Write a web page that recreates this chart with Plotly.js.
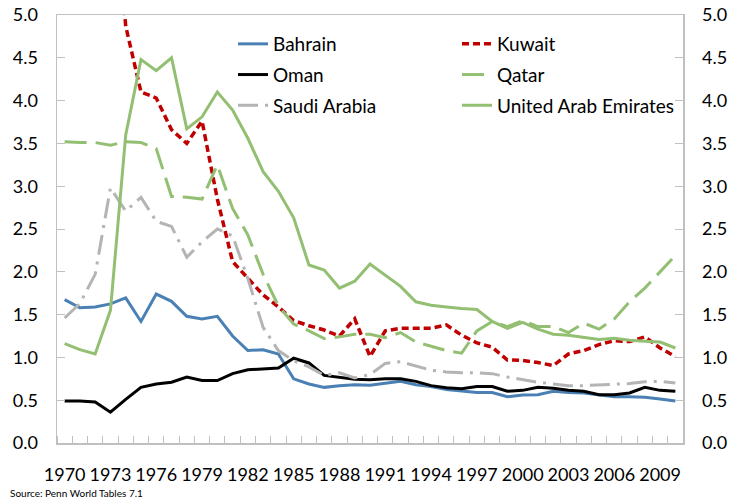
<!DOCTYPE html>
<html>
<head>
<meta charset="utf-8">
<script src="https://cdn.plot.ly/plotly-3.0.1.min.js"></script>
<style>html,body{margin:0;padding:0;background:#fff;}#chart{width:730px;height:503px;}</style>
</head>
<body>
<div id="chart"></div>
<script>
const years = [1970,1971,1972,1973,1974,1975,1976,1977,1978,1979,1980,1981,1982,1983,1984,1985,1986,1987,1988,1989,1990,1991,1992,1993,1994,1995,1996,1997,1998,1999,2000,2001,2002,2003,2004,2005,2006,2007,2008,2009,2010];
const tickYears = [1970,1973,1976,1979,1982,1985,1988,1991,1994,1997,2000,2003,2006,2009];

const bahrain = [1.675,1.58,1.59,1.625,1.695,1.42,1.74,1.655,1.48,1.45,1.48,1.25,1.08,1.09,1.04,0.75,0.69,0.65,0.67,0.68,0.675,0.70,0.72,0.68,0.66,0.625,0.61,0.59,0.59,0.54,0.56,0.565,0.605,0.59,0.585,0.56,0.54,0.54,0.535,0.515,0.49];
const kuwait = [null,null,null,7.0,4.87,4.1,4.03,3.66,3.5,3.76,2.85,2.12,1.93,1.73,1.59,1.43,1.37,1.32,1.25,1.45,1.01,1.31,1.34,1.34,1.34,1.38,1.26,1.17,1.12,0.97,0.965,0.94,0.905,1.04,1.08,1.15,1.195,1.185,1.24,1.11,1.01];
const oman = [0.49,0.49,0.48,0.36,0.51,0.65,0.69,0.71,0.77,0.73,0.73,0.81,0.855,0.865,0.875,0.99,0.935,0.79,0.77,0.745,0.74,0.75,0.75,0.72,0.67,0.645,0.635,0.66,0.66,0.605,0.615,0.65,0.64,0.615,0.605,0.565,0.565,0.585,0.65,0.615,0.605];
const qatar = [3.52,3.51,3.51,3.48,3.52,3.51,3.44,2.88,2.87,2.85,3.25,2.74,2.43,1.97,1.6,1.39,1.31,1.22,1.24,1.27,1.27,1.23,1.29,1.18,1.13,1.08,1.05,1.31,1.42,1.36,1.43,1.36,1.36,1.29,1.40,1.33,1.45,1.65,1.81,2.0,2.19];
const saudi = [1.46,1.63,1.97,2.98,2.71,2.87,2.59,2.53,2.17,2.35,2.5,2.42,1.92,1.35,1.08,0.96,0.89,0.79,0.82,0.76,0.8,0.93,0.95,0.9,0.85,0.83,0.82,0.82,0.81,0.77,0.74,0.71,0.69,0.67,0.67,0.68,0.685,0.695,0.715,0.72,0.70];
const uae = [1.16,1.09,1.04,1.55,3.6,4.48,4.35,4.5,3.67,3.81,4.1,3.89,3.56,3.17,2.94,2.63,2.08,2.02,1.81,1.89,2.09,1.96,1.83,1.65,1.61,1.59,1.57,1.56,1.42,1.34,1.41,1.33,1.27,1.26,1.235,1.21,1.225,1.2,1.19,1.18,1.11];

const names = ['Bahrain','Kuwait','Oman','Qatar','Saudi Arabia','United Arab Emirates'];
const FONT = 'Lato, "Open Sans", sans-serif';
const AXC = '#c0c0c0';

function tr(name, y, color, width, dash, legend, yaxis){
  return {x: years, y: y, name: name, type:'scatter', mode:'lines',
    line:{color:color, width:width, dash:dash}, legend:legend, legendgroup:name,
    yaxis: yaxis||'y', connectgaps:false, hoverinfo:'skip'};
}
const data = [
  tr(names[0], bahrain, '#4a80b4', 3, 'solid', 'legend'),
  tr(names[1], kuwait, '#c00000', 3.5, '7px,4px', 'legend2'),
  tr(names[2], oman, '#000000', 3, 'solid', 'legend'),
  tr(names[3], qatar, '#93bf72', 3, '22px,9px', 'legend2'),
  tr(names[4], saudi, '#b4b4b4', 3, '20px,7px,3px,7px', 'legend'),
  tr(names[5], uae, '#93bf72', 3, 'solid', 'legend2', 'y2')
];

const yCommon = {range:[0,5], dtick:0.5, tick0:0, tickformat:'.1f', showgrid:false, zeroline:false,
  showline:true, linecolor:AXC, linewidth:1.5, ticks:'inside', ticklen:8, tickcolor:AXC, tickwidth:1,
  tickfont:{family:FONT, size:18, color:'#000'}, ticklabelstandoff:14, fixedrange:true};

const legFont = {family:FONT, size:19, color:'#000'};
const layout = {
  width:730, height:503,
  margin:{l:57, r:47, t:15, b:60, pad:0},
  paper_bgcolor:'#fff', plot_bgcolor:'#fff',
  font:{family:FONT, color:'#000'},
  showlegend:true,
  xaxis:{range:[1969.5,2010.5], tickmode:'array', tickvals:tickYears, ticktext:tickYears.map(String),
    ticks:'', showgrid:false, zeroline:false, showline:true, linecolor:AXC, linewidth:1.5, mirror:true,
    tickfont:{family:FONT, size:18, color:'#000'}, ticklabelstandoff:15,
    minor:{ticks:'inside', tick0:1969.5, dtick:1, ticklen:7, tickcolor:AXC, tickwidth:1, showgrid:false}},
  yaxis: Object.assign({}, yCommon, {side:'left'}),
  yaxis2: Object.assign({}, yCommon, {side:'right', overlaying:'y'}),
  legend:{x:(233-57)/626, y:1-(25-15)/428, xanchor:'left', yanchor:'top', bgcolor:'rgba(0,0,0,0)',
    font:legFont, tracegroupgap:3, traceorder:'grouped', itemwidth:30},
  legend2:{x:(457-57)/626, y:1-(25-15)/428, xanchor:'left', yanchor:'top', bgcolor:'rgba(0,0,0,0)',
    font:legFont, tracegroupgap:3, traceorder:'grouped', itemwidth:30},
  annotations:[{xref:'paper', yref:'paper', x:(8-57)/626, y:(443-493)/428, xanchor:'left', yanchor:'middle',
    text:'Source: Penn World Tables 7.1', showarrow:false, font:{family:FONT, size:10, color:'#000'}}]
};

Plotly.newPlot('chart', data, layout, {staticPlot:true, displayModeBar:false});
</script>
</body>
</html>
